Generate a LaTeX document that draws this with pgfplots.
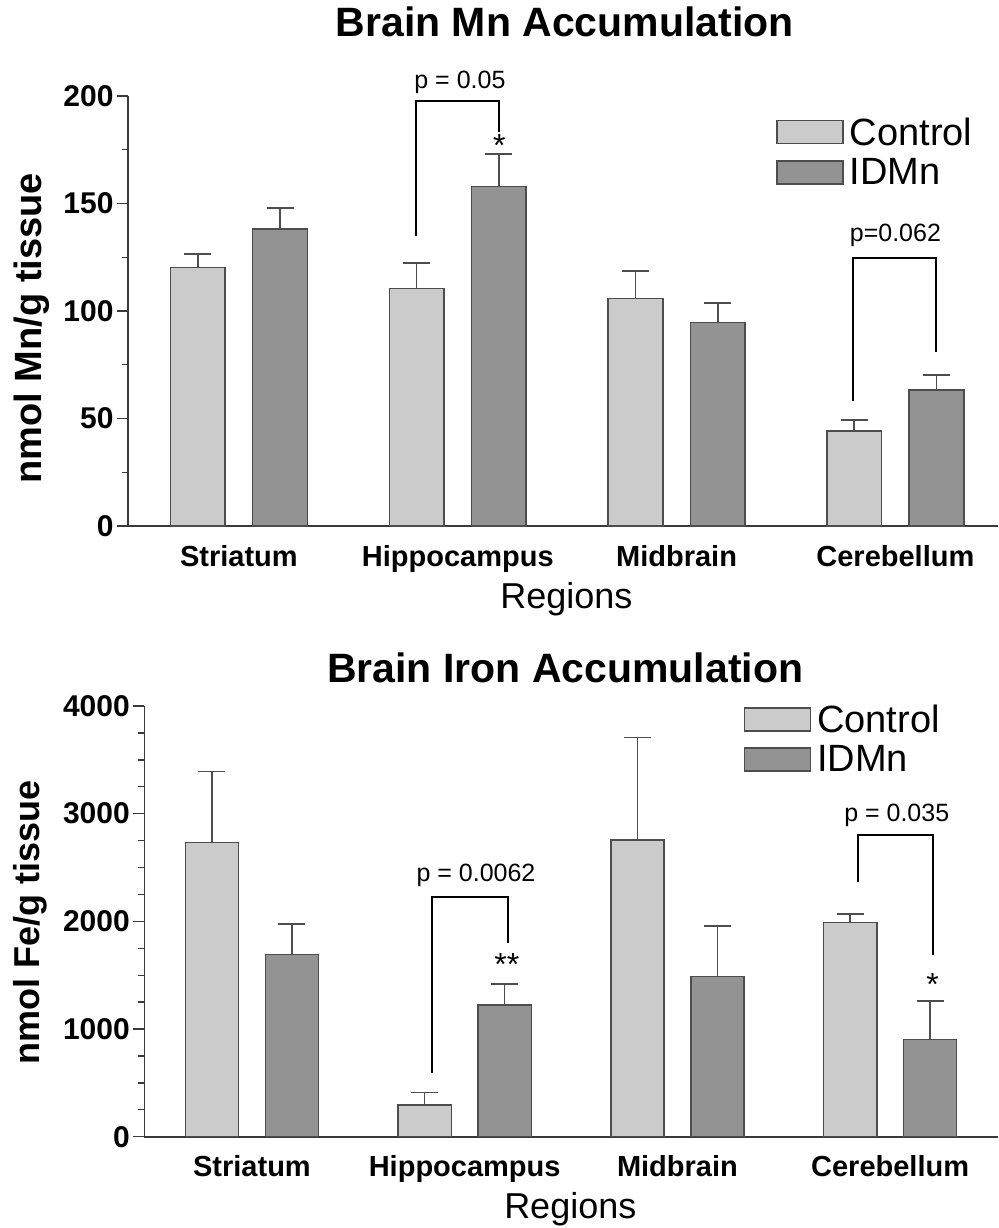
\documentclass[border=0pt]{standalone}
\usepackage{pgfplots}
\pgfplotsset{compat=1.18}
\usepackage{pgfplotstable}
\usepackage{fontspec}
\setmainfont{Liberation Sans}
\definecolor{ctrl}{HTML}{CBCBCB}
\definecolor{idmn}{HTML}{939393}
\definecolor{edge}{HTML}{4D4D4D}
\definecolor{axl}{HTML}{3A3A3A}

\pgfplotstableread{
x y e
-0.188 120.3 6.2
0.812 110.5 11.8
1.812 105.7 12.9
2.812 44.2 5.1
}\mnctrl
\pgfplotstableread{
x y e
0.188 138.1 9.9
1.188 157.8 15.2
2.188 94.6 9.0
3.188 63.3 6.9
}\mnidmn
\pgfplotstableread{
x y e
-0.188 2734 656
0.812 294 115
1.812 2756 950
2.812 1988 80
}\fectrl
\pgfplotstableread{
x y e
0.188 1694 279
1.188 1223 195
2.188 1486 471
3.188 905 358
}\feidmn

\pgfplotsset{
  panel/.style={
    scale only axis,
    clip=false,
    axis x line=bottom, axis y line=left,
    axis line style={-, line width=1.6pt, color=axl},
    xtick={0,1,2,3},
    xticklabels={Striatum,Hippocampus,Midbrain,Cerebellum},
    x tick style={draw=none},
    tick align=outside,
    major tick length=11pt, minor tick length=6pt,
    y tick style={line width=1.3pt, color=axl},
    scaled y ticks=false,
    /pgf/number format/assume math mode=true,
    /pgf/number format/1000 sep={},
    yticklabel style={font=\fontsize{30}{32}\selectfont\bfseries},
    xticklabel style={font=\fontsize{29}{31}\selectfont\bfseries, anchor=base, yshift=-29pt},
    title style={font=\fontsize{41}{43}\selectfont\bfseries, anchor=base},
    xlabel style={font=\fontsize{36}{38}\selectfont, anchor=base},
    ylabel style={anchor=center},
    legend cell align=left,
    legend style={draw=none, fill=none, inner sep=0pt, anchor=north west,
      font=\fontsize{38}{40}\selectfont,
      row sep=8pt,
      /tikz/every even column/.append style={column sep=6pt},
      /tikz/every odd column/.append style={column sep=4pt}},
  },
  cbar/.style={ybar, bar shift=0pt, bar width=0.25, fill=#1, draw=edge, line width=1.5pt,
    error bars/y dir=plus, error bars/y explicit,
    error bars/error bar style={line width=1.6pt, color=edge},
    error bars/error mark options={line width=1.6pt, color=edge, mark size=13.5pt, rotate=90},
    legend image code/.code={\draw[fill=#1, draw=edge, line width=1.5pt] (0pt,-11.5pt) rectangle (66pt,11.5pt);}},
}

\begin{document}
\begin{tikzpicture}
\useasboundingbox (0pt,0pt) rectangle (998pt,-1228pt);

\begin{axis}[panel,
  at={(128pt,-526pt)}, anchor=south west,
  width=870pt, height=430pt,
  xmin=-0.507, xmax=3.469, ymin=0, ymax=200,
  ytick={0,50,100,150,200}, minor ytick={25,75,125,175},
  title={Brain Mn Accumulation},
  title style={at={(axis description cs:0.502,1.124)}},
  xlabel={Regions},
  xlabel style={at={(axis description cs:0.504,-0.191)}},
  ylabel={nmol Mn/g tissue},
  ylabel style={font=\fontsize{38}{40}\selectfont\bfseries, at={(axis description cs:-0.111,0.46)}},
  legend style={at={(axis description cs:0.745,0.955)}},
]
\addplot[cbar=ctrl] table[x=x, y=y, y error=e] {\mnctrl};
\addlegendentry{Control}
\addplot[cbar=idmn] table[x=x, y=y, y error=e] {\mnidmn};
\addlegendentry{IDMn}
% annotations
\draw[line width=1.8pt, black] (axis cs:0.809,135) -- (axis cs:0.809,197.8) -- (axis cs:1.19,197.8) -- (axis cs:1.19,183.4);
\node[anchor=base, font=\fontsize{25}{27}\selectfont] at (axis cs:1.01,203.6) {p = 0.05};
\node[anchor=north, font=\fontsize{32}{34}\selectfont, inner sep=0pt] at (axis cs:1.19,182) {*};
\draw[line width=1.8pt, black] (axis cs:2.805,58) -- (axis cs:2.805,124.8) -- (axis cs:3.187,124.8) -- (axis cs:3.187,81);
\node[anchor=base, font=\fontsize{25}{27}\selectfont] at (axis cs:3.0,132.2) {p=0.062};
\end{axis}

\begin{axis}[panel,
  at={(144.3pt,-1136.7pt)}, anchor=south west,
  width=853.7pt, height=430.7pt,
  xmin=-0.506, xmax=3.507, ymin=0, ymax=4000,
  ytick={0,1000,2000,3000,4000}, minor ytick={250,500,750,1250,1500,1750,2250,2500,2750,3250,3500,3750},
  title={Brain Iron Accumulation},
  title style={at={(axis description cs:0.493,1.04)}},
  xlabel={Regions},
  xlabel style={at={(axis description cs:0.499,-0.191)}},
  ylabel={nmol Fe/g tissue},
  ylabel style={font=\fontsize{36}{38}\selectfont\bfseries, at={(axis description cs:-0.134,0.498)}},
  legend style={at={(axis description cs:0.702,1.008)}},
]
\addplot[cbar=ctrl] table[x=x, y=y, y error=e] {\fectrl};
\addlegendentry{Control}
\addplot[cbar=idmn] table[x=x, y=y, y error=e] {\feidmn};
\addlegendentry{IDMn}
\draw[line width=1.8pt, black] (axis cs:0.848,589) -- (axis cs:0.848,2229) -- (axis cs:1.205,2229) -- (axis cs:1.205,1802);
\node[anchor=base, font=\fontsize{25}{27}\selectfont] at (axis cs:1.053,2368) {p = 0.0062};
\node[anchor=north, font=\fontsize{32}{34}\selectfont, inner sep=0pt] at (axis cs:1.198,1700) {**};
\draw[line width=1.8pt, black] (axis cs:2.848,2369) -- (axis cs:2.848,2802) -- (axis cs:3.203,2802) -- (axis cs:3.203,1688);
\node[anchor=base, font=\fontsize{25}{27}\selectfont] at (axis cs:3.031,2926) {p = 0.035};
\node[anchor=north, font=\fontsize{32}{34}\selectfont, inner sep=0pt] at (axis cs:3.2,1520) {*};
\end{axis}
\end{tikzpicture}
\end{document}
